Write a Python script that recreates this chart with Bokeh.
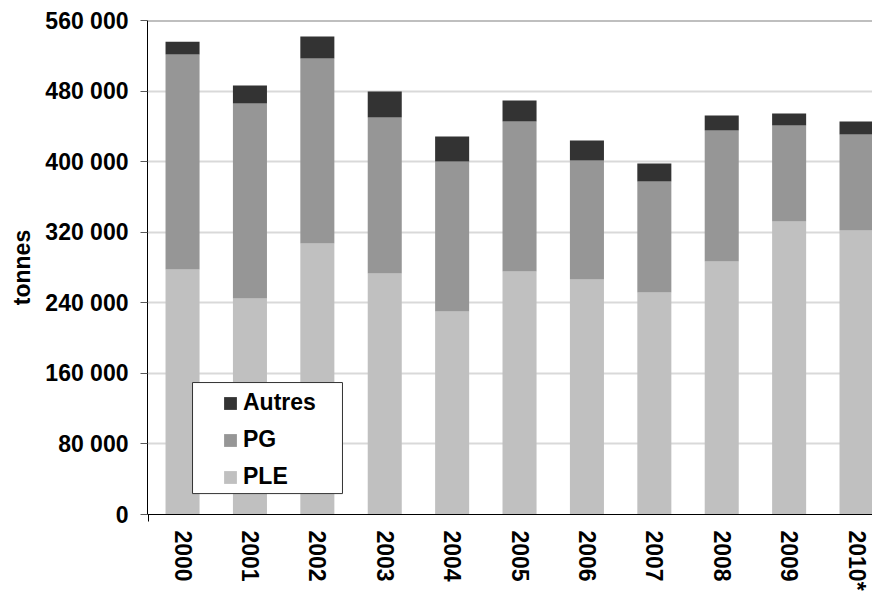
from bokeh.plotting import figure
from bokeh.models import (Range1d, FixedTicker, Legend, LegendItem, BoxAnnotation,
                          Span, ColumnDataSource)
from bokeh.embed import file_html
from bokeh.resources import INLINE

# ---- data ----
years = ["2000", "2001", "2002", "2003", "2004", "2005", "2006", "2007", "2008", "2009", "2010*"]
ple = [277700, 244800, 307200, 273200, 230200, 275400, 266300, 251600, 286800, 332100, 321900]
pg = [243800, 221100, 209800, 176900, 170100, 170200, 135100, 126000, 148600, 109000, 109000]
autres = [14500, 20500, 24900, 29500, 28300, 23800, 22700, 20400, 17000, 13600, 14700]
y_ticks = [0, 80000, 160000, 240000, 320000, 400000, 480000, 560000]
y_tick_labels = ["0", "80 000", "160 000", "240 000", "320 000", "400 000", "480 000", "560 000"]

FONT = "Liberation Sans"
FS = "23px"
xpos = list(range(len(years)))
source = ColumnDataSource(dict(x=xpos, PLE=ple, PG=pg, Autres=autres))

p = figure(width=872, height=593, output_backend="svg", toolbar_location=None,
           x_range=Range1d(-0.52, 10.237), y_range=Range1d(0, 560000),
           min_border_left=147, min_border_top=20, min_border_right=0,
           min_border_bottom=0)
p.outline_line_color = None
p.background_fill_color = "white"

rs = p.vbar_stack(["PLE", "PG", "Autres"], x="x", width=0.505,
                  fill_color=["#c0c0c0", "#969696", "#333333"], line_color=None,
                  source=source)

# x axis
p.xaxis.ticker = FixedTicker(ticks=xpos, minor_ticks=[-0.5])
p.xaxis.major_label_overrides = {i: y for i, y in enumerate(years)}
p.xaxis.major_label_orientation = "vertical"
p.xaxis.major_tick_out = 0
p.xaxis.major_tick_in = 0
p.xaxis.minor_tick_out = 7
p.xaxis.minor_tick_in = 0
p.xaxis.minor_tick_line_color = "black"
p.xaxis.axis_line_color = "black"
p.xaxis.major_label_standoff = 9
p.xaxis.major_label_text_font = FONT
p.xaxis.major_label_text_font_style = "bold"
p.xaxis.major_label_text_font_size = FS
p.xaxis.major_label_text_color = "black"

# y axis
p.yaxis.ticker = FixedTicker(ticks=y_ticks)
p.yaxis.major_label_overrides = {t: l for t, l in zip(y_ticks, y_tick_labels)}
p.yaxis.major_tick_out = 7
p.yaxis.major_tick_in = 0
p.yaxis.minor_tick_out = 0
p.yaxis.minor_tick_in = 0
p.yaxis.major_tick_line_color = "#595959"
p.yaxis.axis_line_color = "black"
p.yaxis.major_label_standoff = 12
p.yaxis.major_label_text_font = FONT
p.yaxis.major_label_text_font_style = "bold"
p.yaxis.major_label_text_font_size = FS
p.yaxis.major_label_text_color = "black"
p.yaxis.axis_label = "tonnes"
p.yaxis.axis_label_text_font = FONT
p.yaxis.axis_label_text_font_style = "bold"
p.yaxis.axis_label_text_font_size = FS
p.yaxis.axis_label_text_color = "black"
p.yaxis.axis_label_standoff = 7

# grid
p.xgrid.visible = False
p.ygrid.grid_line_color = "#d9d9d9"
p.ygrid.grid_line_width = 2
p.add_layout(Span(location=560000, dimension="width", line_color="#808080",
                  line_width=2, level="underlay"))

# legend frame + legend
p.add_layout(BoxAnnotation(left=0.148, right=2.373, top=149600, bottom=23700,
                           fill_color="white", fill_alpha=1.0,
                           line_color="#333333", line_width=1, line_alpha=1.0))
legend = Legend(items=[LegendItem(label="Autres", renderers=[rs[2]]),
                       LegendItem(label="PG", renderers=[rs[1]]),
                       LegendItem(label="PLE", renderers=[rs[0]])],
                location=(75, 24), padding=0, margin=0, spacing=10,
                glyph_width=16, glyph_height=16, label_standoff=5,
                label_text_font=FONT, label_text_font_style="bold",
                label_text_font_size=FS, label_text_color="black",
                background_fill_alpha=0, border_line_alpha=0)
p.add_layout(legend)

open("out.html", "w").write(file_html(p, INLINE))
